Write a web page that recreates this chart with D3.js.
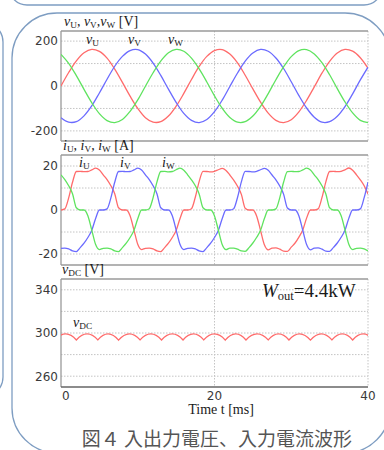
<!DOCTYPE html>
<html>
<head>
<meta charset="utf-8">
<script src="https://cdn.jsdelivr.net/npm/d3@7/dist/d3.min.js"></script>
<style>
  body { margin: 0; background: #fff; }
  svg { display: block; }
  .tick-label { font-family: "DejaVu Sans", sans-serif; font-size: 12px; fill: #3a3a3a; }
  .serif { font-family: "Liberation Serif", "Times New Roman", serif; fill: #1a1a1a; }
  .caption { font-family: "Noto Sans CJK JP", sans-serif; font-size: 19px; fill: #555; }
</style>
</head>
<body>
<div id="chart"></div>
<script>
// time axis [ms]
const timeTicks = [0, 20, 40];

// phase voltages [V], one sample per 1 ms from 0 to 40 ms
const vStep = 1;
const vU = [0, 60, 112, 148, 163, 154, 124, 75, 16, -45, -100, -141, -161, -159, -134, -90, -33, 29, 87, 132, 158,
  162, 142, 103, 48, -13, -72, -121, -153, -163, -150, -115, -64, -4, 57, 110, 147, 163, 155, 126, 79];
const vV = [-141, -161, -159, -133, -89, -31, 30, 88, 132, 158, 162, 142, 102, 47, -14, -73, -122, -153, -163, -149, -114,
  -63, -2, 58, 111, 147, 163, 155, 125, 78, 19, -43, -98, -139, -161, -159, -135, -92, -35, 27, 84];
const vW = [141, 101, 46, -15, -74, -123, -154, -163, -149, -113, -62, -1, 59, 111, 148, 163, 155, 124, 76, 18, -44,
  -99, -140, -161, -159, -134, -91, -34, 28, 85, 131, 158, 162, 143, 104, 50, -12, -71, -120, -153, -163];

// phase currents [A], one sample per 0.5 ms from 0 to 40 ms
const iStep = 0.5;
const iU = [
  0, 0.5, 5.5, 12.6, 17.5, 17.6, 17.4, 17.5, 18.2, 19.0, 18.2, 16.0, 13.8, 11.0, 7.4, 1.0, 0,
  0, -2.6, -9.0, -15.6, -18.0, -17.4, -17.3, -17.7, -18.6, -18.9, -17.1, -15.1, -12.5, -9.3, -4.0, 0,
  0, 0.6, 5.8, 12.9, 17.6, 17.5, 17.3, 17.6, 18.3, 18.9, 18.0, 15.9, 13.6, 10.8, 7.1, 0.8, 0,
  0, -2.8, -9.3, -15.8, -18.1, -17.3, -17.2, -17.8, -18.7, -18.8, -16.9, -15.0, -12.3, -9.1, -3.7, 0,
  0, 0.5, 5.6, 12.7, 17.5, 17.6, 17.4, 17.6, 18.2, 19.1, 18.1, 16.0, 13.7, 11.0, 7.3
];
const iV = [
  -17.4, -17.3, -17.7, -18.6, -18.9, -17.1, -15.1, -12.5, -9.3, -4.0, 0,
  0, 0.5, 5.5, 12.6, 17.5, 17.6, 17.4, 17.5, 18.2, 19.0, 18.2, 16.0, 13.8, 11.0, 7.4, 1.0, 0,
  0, -2.6, -9.0, -15.6, -18.0, -17.4, -17.3, -17.7, -18.6, -18.9, -17.1, -15.1, -12.5, -9.3, -4.0, 0,
  0, 0.6, 5.7, 12.8, 17.6, 17.5, 17.3, 17.6, 18.3, 18.9, 18.1, 15.9, 13.7, 10.9, 7.2, 0.9, 0,
  0, -2.7, -9.2, -15.7, -18.1, -17.3, -17.2, -17.8, -18.7, -18.8, -17.0, -15.0, -12.4, -9.2, -3.8, 0,
  0, 0.5, 5.6, 12.7
];
const iW = [
  16.0, 13.8, 11.0, 7.4, 1.0, 0,
  0, -2.6, -9.0, -15.6, -18.0, -17.4, -17.3, -17.7, -18.6, -18.9, -17.1, -15.1, -12.5, -9.3, -4.0, 0,
  0, 0.6, 5.6, 12.7, 17.5, 17.6, 17.3, 17.5, 18.3, 19.0, 18.1, 16.0, 13.7, 11.0, 7.3, 1.0, 0,
  0, -2.7, -9.1, -15.7, -18.0, -17.3, -17.3, -17.8, -18.6, -18.8, -17.1, -15.0, -12.4, -9.2, -3.9, 0,
  0, 0.5, 5.5, 12.6, 17.4, 17.6, 17.4, 17.5, 18.2, 19.0, 18.2, 16.0, 13.8, 11.0, 7.4, 1.0, 0,
  0, -2.6, -9.0, -15.6, -18.0, -17.4, -17.3, -17.7, -18.6
];

// DC link voltage ripple: cusp times [ms], cusp values and arc peak values [V]
const vdcCuspT = [-0.75, 2.0, 4.8, 7.5, 10.3, 13.1, 15.9, 18.6, 21.4, 24.1, 27.0, 29.7, 32.5, 35.3, 38.0, 40.75];
const vdcCuspV = [293.6, 293.5, 293.6, 293.4, 293.6, 293.5, 293.5, 293.6, 293.4, 293.5, 293.6, 293.5, 293.4, 293.6, 293.5, 293.5];
const vdcPeakV = [299.2, 299.1, 299.2, 299.2, 299.1, 299.2, 299.2, 299.1, 299.2, 299.2, 299.1, 299.2, 299.2, 299.1, 299.2];

const colours = { u: '#ff6b6b', v: '#6b6bff', w: '#5fe35f' };

const width = 384, height = 450;
const plotLeft = 61, plotRight = 368;

const svg = d3.select('#chart').append('svg')
    .attr('width', width)
    .attr('height', height);

// background frames
const frame = svg.append('g')
    .attr('fill', 'none')
    .attr('stroke', '#7e9dc2')
    .attr('stroke-width', 1.3);
frame.append('rect').attr('x', 9).attr('y', -50).attr('width', 373).attr('height', 55).attr('rx', 18);
frame.append('rect').attr('x', -40).attr('y', 22).attr('width', 43).attr('height', 375).attr('rx', 20);
frame.append('rect').attr('x', 12).attr('y', 13).attr('width', 378).attr('height', 440).attr('rx', 45);

const x = d3.scaleLinear().domain([0, 40]).range([plotLeft, plotRight]);

// write a label made of italic letters and subscripts
function richText(g, px, py, parts, size) {
  const t = g.append('text')
      .attr('class', 'serif')
      .attr('x', px)
      .attr('y', py)
      .style('font-size', size + 'px');
  let down = false;
  const shift = size * 0.17;
  parts.forEach(p => {
    const s = t.append('tspan').text(p[0]);
    if (p[1] === 'i') s.style('font-style', 'italic');
    if (p[1] === 's') {
      s.style('font-size', (size * 0.66) + 'px');
      if (!down) { s.attr('dy', shift); down = true; }
    } else if (down) {
      s.attr('dy', -shift);
      down = false;
    }
  });
  return t;
}

function drawPanel(top, bottom, domain, ticks, grid, isLast) {
  const y = d3.scaleLinear().domain(domain).range([bottom, top]);
  const g = svg.append('g');

  // horizontal grid
  g.selectAll('.hgrid')
    .data(grid)
    .enter().append('line')
      .attr('x1', plotLeft).attr('x2', plotRight)
      .attr('y1', d => y(d)).attr('y2', d => y(d))
      .attr('stroke', '#c4c4c4')
      .attr('stroke-dasharray', '1.5,1.5');

  // vertical grid
  g.selectAll('.vgrid')
    .data([20, 40])
    .enter().append('line')
      .attr('x1', d => x(d)).attr('x2', d => x(d))
      .attr('y1', top).attr('y2', bottom)
      .attr('stroke', '#c4c4c4')
      .attr('stroke-dasharray', '1.5,1.5');

  // frame: top, left, bottom
  g.append('line').attr('x1', plotLeft).attr('x2', plotRight).attr('y1', top).attr('y2', top)
      .attr('stroke', '#9a9a9a').attr('stroke-width', 1.3);
  g.append('line').attr('x1', plotLeft).attr('x2', plotLeft).attr('y1', top).attr('y2', bottom)
      .attr('stroke', '#9a9a9a').attr('stroke-width', 1.3);
  g.append('line').attr('x1', plotLeft).attr('x2', plotRight).attr('y1', bottom).attr('y2', bottom)
      .attr('stroke', isLast ? '#666' : '#9a9a9a').attr('stroke-width', isLast ? 1.5 : 1.3);

  // y tick labels
  g.selectAll('.ylab')
    .data(ticks)
    .enter().append('text')
      .attr('class', 'tick-label')
      .attr('x', plotLeft - 3)
      .attr('y', d => y(d))
      .attr('dy', '0.36em')
      .attr('text-anchor', 'end')
      .text(d => d);

  const clipId = 'clip' + top;
  svg.append('clipPath').attr('id', clipId)
    .append('rect')
      .attr('x', plotLeft).attr('y', top)
      .attr('width', plotRight - plotLeft).attr('height', bottom - top);

  return { y: y, g: g.append('g').attr('clip-path', 'url(#' + clipId + ')') };
}

function drawSeries(panel, values, step, colour, curve) {
  const line = d3.line()
      .x((d, i) => x(i * step))
      .y(d => panel.y(d))
      .curve(curve);
  panel.g.append('path')
      .datum(values)
      .attr('fill', 'none')
      .attr('stroke', colour)
      .attr('stroke-width', 1.3)
      .attr('stroke-linejoin', 'round')
      .attr('d', line);
}

// Panel 1: phase voltages
const p1 = drawPanel(31, 141, [-245, 245], [-200, 0, 200], [-200, -100, 0, 100, 200], false);
drawSeries(p1, vU, vStep, colours.u, d3.curveCatmullRom);
drawSeries(p1, vV, vStep, colours.v, d3.curveCatmullRom);
drawSeries(p1, vW, vStep, colours.w, d3.curveCatmullRom);
richText(svg, 64, 26, [['v', 'i'], ['U', 's'], [', '], ['v', 'i'], ['V', 's'], [','], ['v', 'i'], ['W', 's'], [' [V]']], 14);
richText(svg, 86, 44, [['v', 'i'], ['U', 's']], 14);
richText(svg, 128, 44, [['v', 'i'], ['V', 's']], 14);
richText(svg, 168, 44, [['v', 'i'], ['W', 's']], 14);

// Panel 2: phase currents
const p2 = drawPanel(155, 265, [-25, 25], [-20, 0, 20], [-20, -10, 0, 10, 20], false);
drawSeries(p2, iU, iStep, colours.u, d3.curveMonotoneX);
drawSeries(p2, iV, iStep, colours.v, d3.curveMonotoneX);
drawSeries(p2, iW, iStep, colours.w, d3.curveMonotoneX);
richText(svg, 63, 150, [['i', 'i'], ['U', 's'], [', '], ['i', 'i'], ['V', 's'], [', '], ['i', 'i'], ['W', 's'], [' [A]']], 14);
richText(svg, 79, 167, [['i', 'i'], ['U', 's']], 14);
richText(svg, 120, 167, [['i', 'i'], ['V', 's']], 14);
richText(svg, 162, 167, [['i', 'i'], ['W', 's']], 14);

// Panel 3: DC voltage
const p3 = drawPanel(279, 387, [250, 350], [260, 300, 340], [260, 280, 300, 320, 340], true);
const vdcPath = d3.path();
vdcCuspT.forEach((t, i) => {
  if (i === 0) { vdcPath.moveTo(x(t), p3.y(vdcCuspV[i])); return; }
  const tm = (vdcCuspT[i - 1] + t) / 2;
  const ctrl = 2 * vdcPeakV[i - 1] - (vdcCuspV[i - 1] + vdcCuspV[i]) / 2;
  vdcPath.quadraticCurveTo(x(tm), p3.y(ctrl), x(t), p3.y(vdcCuspV[i]));
});
p3.g.append('path')
    .attr('d', vdcPath.toString())
    .attr('fill', 'none')
    .attr('stroke', colours.u)
    .attr('stroke-width', 1.3);
richText(svg, 62, 274, [['v', 'i'], ['DC', 's'], [' [V]']], 14);
richText(svg, 73, 327, [['v', 'i'], ['DC', 's']], 14);
richText(svg, 262, 297, [['W', 'i'], ['out', 's'], ['=4.4kW']], 19);

// x axis labels
svg.selectAll('.xlab')
  .data(timeTicks)
  .enter().append('text')
    .attr('class', 'tick-label')
    .attr('x', d => x(d) + (d === 0 ? 1 : 0))
    .attr('y', 400)
    .attr('text-anchor', d => d === 0 ? 'start' : 'middle')
    .text(d => d);

svg.append('text')
    .attr('class', 'serif')
    .attr('x', 221)
    .attr('y', 414)
    .attr('text-anchor', 'middle')
    .style('font-size', '14px')
    .text('Time t [ms]');

svg.append('text')
    .attr('class', 'caption')
    .attr('x', 217)
    .attr('y', 446)
    .attr('text-anchor', 'middle')
    .text('図４ 入出力電圧、入力電流波形');
</script>
</body>
</html>
